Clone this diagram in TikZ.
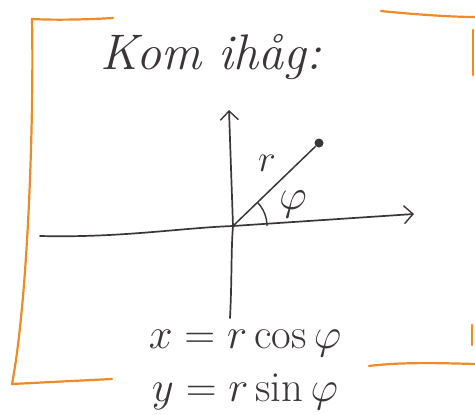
\RequirePackage{fix-cm}
\documentclass[tikz,border=0pt]{standalone}
\usepackage{fontspec}
\usepackage{graphicx}
\usetikzlibrary{arrows.meta}
\definecolor{ink}{HTML}{3A3536}
\definecolor{frameorange}{HTML}{F08A24}
\begin{document}
\begin{tikzpicture}[x=1pt,y=1pt,
  frameline/.style={draw=frameorange,line width=2.2pt,line cap=round,line join=round},
  axisline/.style={draw=ink,line width=1.7pt,line cap=round,-{Straight Barb[length=9pt,width=18pt,line width=1.4pt]}},
  inktext/.style={text=ink,inner sep=0pt}]
\useasboundingbox (0,0) rectangle (475,-415);
% frame
\draw[frameline] (113,-18) .. controls (80,-20) and (50,-20) .. (32,-19)
  .. controls (34,-120) and (28,-300) .. (12,-384) -- (112,-379);
\draw[frameline] (381,-11) .. controls (410,-14) and (450,-17) .. (475,-17);
\draw[frameline] (473,-30) -- (473,-75);
\draw[frameline] (369,-366) .. controls (400,-362) and (440,-363) .. (475,-364);
\draw[frameline] (472,-325) -- (472,-345);
% title
\node[inktext,font=\fontsize{50}{52}\selectfont\itshape] (title) at (211,-57) {Kom ihåg:};
% axes
\coordinate (O) at (233,-226);
\coordinate (xl) at (40,-236);
\coordinate (xr) at (414,-214);
\coordinate (yb) at (230,-318);
\coordinate (yt) at (229,-110);
\draw[axisline] (xl) .. controls (120,-238) and (180,-228) .. (O) -- (xr);
\draw[axisline] (yb) .. controls (232,-280) and (231,-250) .. (O) -- (yt);
% radius
\node[circle,fill=ink,minimum size=9pt,inner sep=0pt] (P) at (319,-143) {};
\draw[ink,line width=1.5pt] (O) -- (P);
\draw[ink,line width=1.4pt] (O) ++(34,0) arc[start angle=0,end angle=44,radius=34];
\node[inktext,font=\fontsize{28}{30}\selectfont] (r) at (267,-163) {\scalebox{1.35}{$r$}};
\node[inktext,font=\fontsize{32}{34}\selectfont] (phi) at (293,-204) {\scalebox{1.35}{$\varphi$}};
% formulas
\node[inktext,font=\fontsize{31}{33}\selectfont] (eq1) at (245,-343) {\scalebox{1.38}{$x = r\cos\varphi$}};
\node[inktext,font=\fontsize{31}{33}\selectfont] (eq2) at (245,-392) {\scalebox{1.38}{$y = r\sin\varphi$}};
\end{tikzpicture}
\end{document}
